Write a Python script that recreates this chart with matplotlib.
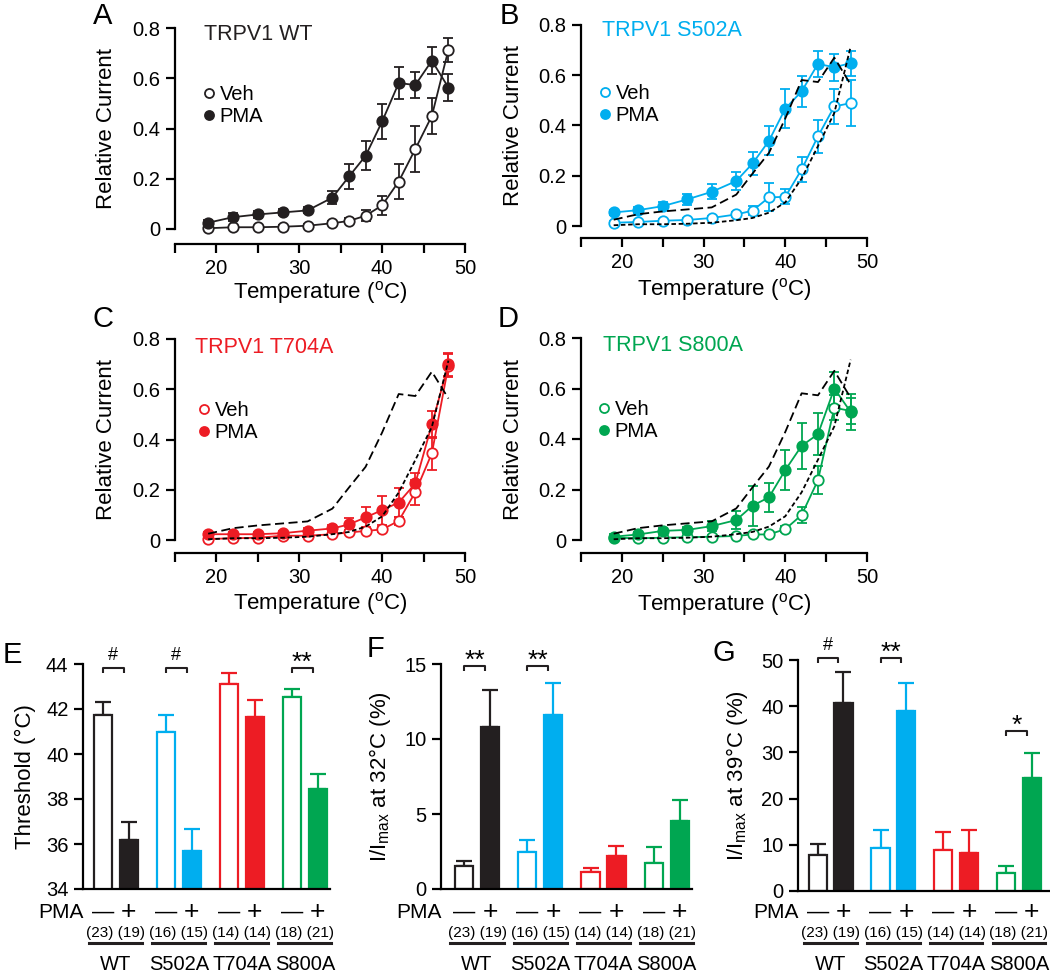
import matplotlib
matplotlib.use('Agg')
import matplotlib.pyplot as plt
from matplotlib.lines import Line2D
from matplotlib.ticker import FuncFormatter, MultipleLocator
from matplotlib.transforms import blended_transform_factory

plt.rcParams['font.family'] = ['Liberation Sans', 'DejaVu Sans']
plt.rcParams['mathtext.fontset'] = 'custom'
plt.rcParams['mathtext.rm'] = 'Liberation Sans'
plt.rcParams['mathtext.it'] = 'Liberation Sans:italic'
plt.rcParams['mathtext.bf'] = 'Liberation Sans:bold'
plt.rcParams['axes.linewidth'] = 1.6
plt.rcParams['xtick.major.width'] = 1.6
plt.rcParams['ytick.major.width'] = 1.6
plt.rcParams['xtick.major.size'] = 6.5
plt.rcParams['ytick.major.size'] = 6.5
plt.rcParams['xtick.labelsize'] = 14.5
plt.rcParams['ytick.labelsize'] = 14.5
plt.rcParams['axes.labelsize'] = 16

BLACK = '#231f20'
BLUE = '#00aeef'
RED = '#ed1c24'
GREEN = '#00a651'

# ---- temperature-response curves (A-D) ----
temps = [19, 22, 25, 28, 31, 34, 36, 38, 40, 42, 44, 46, 48]

wt_veh = [0.003, 0.007, 0.007, 0.009, 0.013, 0.023, 0.032, 0.053, 0.094, 0.189, 0.318, 0.450, 0.714]
wt_veh_err = [0.003, 0.004, 0.004, 0.005, 0.006, 0.008, 0.010, 0.023, 0.038, 0.068, 0.092, 0.073, 0.048]
wt_pma = [0.025, 0.047, 0.058, 0.066, 0.074, 0.125, 0.209, 0.291, 0.428, 0.581, 0.573, 0.670, 0.563]
wt_pma_err = [0.010, 0.015, 0.015, 0.012, 0.012, 0.026, 0.048, 0.058, 0.070, 0.065, 0.050, 0.053, 0.055]

s502a_veh = [0.013, 0.016, 0.021, 0.024, 0.032, 0.046, 0.061, 0.114, 0.116, 0.225, 0.357, 0.476, 0.489]
s502a_veh_err = [0.005, 0.005, 0.006, 0.006, 0.008, 0.010, 0.017, 0.056, 0.030, 0.050, 0.066, 0.071, 0.092]
s502a_pma = [0.054, 0.063, 0.079, 0.106, 0.136, 0.179, 0.249, 0.339, 0.467, 0.536, 0.645, 0.632, 0.648]
s502a_pma_err = [0.010, 0.012, 0.015, 0.023, 0.030, 0.034, 0.046, 0.058, 0.078, 0.061, 0.050, 0.053, 0.050]

t704a_veh = [0.004, 0.007, 0.009, 0.017, 0.017, 0.023, 0.030, 0.036, 0.042, 0.076, 0.190, 0.345, 0.694]
t704a_veh_err = [0.004, 0.004, 0.005, 0.006, 0.006, 0.008, 0.008, 0.010, 0.010, 0.015, 0.050, 0.066, 0.045]
t704a_pma = [0.023, 0.023, 0.023, 0.027, 0.037, 0.046, 0.062, 0.090, 0.119, 0.149, 0.225, 0.460, 0.699]
t704a_pma_err = [0.010, 0.010, 0.010, 0.010, 0.012, 0.015, 0.025, 0.040, 0.058, 0.057, 0.040, 0.053, 0.045]

s800a_veh = [0.009, 0.007, 0.009, 0.011, 0.013, 0.016, 0.022, 0.022, 0.043, 0.099, 0.237, 0.524, 0.511]
s800a_veh_err = [0.004, 0.004, 0.004, 0.005, 0.005, 0.006, 0.008, 0.008, 0.012, 0.030, 0.056, 0.050, 0.050]
s800a_pma = [0.013, 0.022, 0.036, 0.040, 0.055, 0.079, 0.136, 0.169, 0.277, 0.373, 0.419, 0.600, 0.507]
s800a_pma_err = [0.010, 0.010, 0.012, 0.012, 0.020, 0.036, 0.079, 0.057, 0.079, 0.090, 0.082, 0.066, 0.070]

# ---- bar summaries (E-G) ----
groups = ['WT', 'S502A', 'T704A', 'S800A']
group_colors = [BLACK, BLUE, RED, GREEN]
n_veh = [23, 16, 14, 18]
n_pma = [19, 15, 14, 21]

thr_veh = [41.72, 40.98, 43.11, 42.52]
thr_veh_err = [0.58, 0.74, 0.49, 0.38]
thr_pma = [36.16, 35.70, 41.64, 38.44]
thr_pma_err = [0.84, 0.96, 0.77, 0.69]

i32_veh = [1.51, 2.47, 1.13, 1.73]
i32_veh_err = [0.33, 0.77, 0.27, 1.07]
i32_pma = [10.78, 11.58, 2.22, 4.51]
i32_pma_err = [2.51, 2.15, 0.67, 1.45]

i39_veh = [7.88, 9.30, 8.96, 3.90]
i39_veh_err = [2.38, 3.85, 3.84, 1.45]
i39_pma = [40.8, 38.9, 8.3, 24.5]
i39_pma_err = [6.5, 6.2, 4.85, 5.3]

W, H = 1050, 977
fig = plt.figure(figsize=(W / 100, H / 100), dpi=100)


def px_axes(x0, y_top, x1, y_bot):
    return fig.add_axes([x0 / W, 1 - y_bot / H, (x1 - x0) / W, (y_bot - y_top) / H])


def fig_text(px, py, s, **kw):
    fig.text(px / W, 1 - py / H, s, **kw)


def unclip(container):
    for art in container.get_children():
        art.set_clip_on(False)


# ------------------------------------------------------------------
# A-D: relative current vs temperature
# ------------------------------------------------------------------
curve_panels = [
    # letter, title, color, veh, veh_err, pma, pma_err, box(px), spine offset, letter pos, title pos, legend anchor
    ('A', 'TRPV1 WT', BLACK, wt_veh, wt_veh_err, wt_pma, wt_pma_err,
     (175, 28, 465, 229), 15, (93, 16), (0.10, 0.97), (0.099, 0.715)),
    ('B', 'TRPV1 S502A', BLUE, s502a_veh, s502a_veh_err, s502a_pma, s502a_pma_err,
     (581, 25, 867, 226), 12, (500, 16), (0.073, 0.975), (0.065, 0.705)),
    ('C', 'TRPV1 T704A', RED, t704a_veh, t704a_veh_err, t704a_pma, t704a_pma_err,
     (175, 339, 465, 540), 13, (93, 319), (0.069, 0.96), (0.081, 0.69)),
    ('D', 'TRPV1 S800A', GREEN, s800a_veh, s800a_veh_err, s800a_pma, s800a_pma_err,
     (581, 338, 867, 540), 13, (498, 319), (0.077, 0.965), (0.0615, 0.695)),
]

for (letter, title, col, veh, veh_err, pma, pma_err, box, offset,
     lpos, tpos, legpos) in curve_panels:
    ax = px_axes(*box)
    ax.set_xlim(15, 50)
    ax.set_ylim(0, 0.8)
    for side in ('top', 'right'):
        ax.spines[side].set_visible(False)
    ax.spines['bottom'].set_position(('outward', offset * 0.72))

    if letter != 'A':
        # WT curves for reference
        ax.plot(temps, wt_pma, color='black', lw=1.3, dashes=(5, 2.5), zorder=3, clip_on=False)
        ax.plot(temps, wt_veh, color='black', lw=1.3, dashes=(2.5, 1.5), zorder=3, clip_on=False)

    for vals, errs, face in ((veh, veh_err, 'white'), (pma, pma_err, col)):
        eb = ax.errorbar(temps, vals, yerr=errs, fmt='-o', color=col, mfc=face, mec=col,
                         ms=7.5, mew=1.3, lw=1.3, elinewidth=1.3, capsize=3.6, capthick=1.3,
                         zorder=2)
        unclip(eb)

    ax.xaxis.set_major_locator(MultipleLocator(5))
    ax.xaxis.set_major_formatter(FuncFormatter(
        lambda v, _: f'{v:g}' if (v % 10 == 0 and v > 15) else ''))
    ax.yaxis.set_major_locator(MultipleLocator(0.2))
    ax.yaxis.set_major_formatter(FuncFormatter(lambda v, _: f'{v:g}'))
    ax.tick_params(direction='out', pad=4)

    ax.set_xlabel('Temperature ($^{\\mathregular{o}}$C)')
    ax.xaxis.set_label_coords(0.5, -0.25)
    ax.xaxis.label.set_va('top')
    ax.set_ylabel('Relative Current')
    ax.yaxis.set_label_coords(-0.2, 0.5)

    ax.text(tpos[0], tpos[1], title, transform=ax.transAxes, color=col,
            fontsize=15.5, ha='left', va='center')

    handles = [Line2D([], [], marker='o', ls='none', mfc='white', mec=col, mew=1.3, ms=6.5),
               Line2D([], [], marker='o', ls='none', mfc=col, mec=col, mew=1.3, ms=6.5)]
    ax.legend(handles, ['Veh', 'PMA'], loc='upper left', bbox_to_anchor=legpos,
              frameon=False, fontsize=14.5, handlelength=0.55, handletextpad=0.25,
              labelspacing=0.15, borderpad=0, borderaxespad=0)

    fig_text(lpos[0], lpos[1], letter, fontsize=21, ha='left', va='center')

# ------------------------------------------------------------------
# E-G: bar summaries
# ------------------------------------------------------------------
bar_panels = [
    ('E', 'Threshold (°C)', thr_veh, thr_veh_err, thr_pma, thr_pma_err,
     (83, 664, 330, 889), (34, 44), 2, (-0.52, 3.40), (3, 655),
     [(0, '#', 43.82), (1, '#', 43.82), (3, '**', 43.82)]),
    ('F', 'I/I$_{\\rm max}$ at 32°C (%)', i32_veh, i32_veh_err, i32_pma, i32_pma_err,
     (441, 664, 692, 889), (0, 15), 5, (-0.57, 3.40), (367, 649),
     [(0, '**', 14.85), (1, '**', 14.85)]),
    ('G', 'I/I$_{\\rm max}$ at 39°C (%)', i39_veh, i39_veh_err, i39_pma, i39_pma_err,
     (798, 660, 1049, 891), (0, 50), 10, (-0.52, 3.48), (712, 653),
     [(0, '#', 50.4), (1, '**', 50.4), (3, '*', 34.6)]),
]

off = 0.205
bw = 0.29

for (letter, ylabel, veh, veh_err, pma, pma_err, box, ylim, ystep, xlim,
     lpos, sigs) in bar_panels:
    ax = px_axes(*box)
    ax.set_xlim(*xlim)
    ax.set_ylim(*ylim)
    for side in ('top', 'right'):
        ax.spines[side].set_visible(False)

    xs = list(range(len(groups)))
    xv = [x - off for x in xs]
    xp = [x + off for x in xs]
    ax.bar(xv, veh, width=bw, color='white', edgecolor=group_colors, linewidth=1.6, zorder=2)
    ax.bar(xp, pma, width=bw, color=group_colors, edgecolor=group_colors, linewidth=1.6, zorder=2)
    for i, c in enumerate(group_colors):
        for xx, v, e in ((xv[i], veh[i], veh_err[i]), (xp[i], pma[i], pma_err[i])):
            eb = ax.errorbar([xx], [v], yerr=[[0], [e]], fmt='none', ecolor=c,
                             elinewidth=1.6, capsize=5.5, capthick=1.6, zorder=1)
            unclip(eb)

    ax.set_xticks([])
    ax.yaxis.set_major_locator(MultipleLocator(ystep))
    ax.yaxis.set_major_formatter(FuncFormatter(lambda v, _: f'{v:g}'))
    ax.tick_params(axis='y', direction='out', pad=4)
    ax.set_ylabel(ylabel, fontsize=16)
    ax.yaxis.set_label_coords(-0.19, 0.5)

    # significance brackets
    ax_h = box[3] - box[1]
    per_px = (ylim[1] - ylim[0]) / ax_h
    for gi, lab, yb in sigs:
        x0, x1 = xv[gi], xp[gi] - 0.08
        tip = 5 * per_px
        ax.plot([x0, x0, x1, x1], [yb - tip, yb, yb, yb - tip], color=BLACK, lw=1.5,
                clip_on=False, solid_capstyle='butt')
        if lab == '#':
            ax.annotate(lab, xy=((x0 + x1) / 2, yb), xytext=(0, 9), textcoords='offset points',
                        ha='center', va='center', fontsize=13, annotation_clip=False)
        else:
            ax.annotate(lab, xy=((x0 + x1) / 2, yb), xytext=(0, 4), textcoords='offset points',
                        ha='center', va='center', fontsize=19, annotation_clip=False)

    # rows under the x axis
    tr = blended_transform_factory(ax.transData, fig.transFigure)
    fig_text(box[0] + 1, 912, 'PMA', fontsize=15, ha='right', va='center')
    for i in xs:
        ax.text(xv[i], 1 - 912 / H, '\u2014', transform=tr, fontsize=16, ha='center', va='center')
        ax.text(xp[i], 1 - 912 / H, '+', transform=tr, fontsize=19, ha='center', va='center')
        ax.text(i, 1 - 933 / H, f'({n_veh[i]}) ({n_pma[i]})', transform=tr, fontsize=11,
                ha='center', va='center')
        ax.add_line(Line2D([i - 0.42, i + 0.42], [1 - 943 / H, 1 - 943 / H], transform=tr,
                           color=BLACK, lw=2.2, clip_on=False))
        ax.text(i, 1 - 965 / H, groups[i], transform=tr, fontsize=14.5, ha='center', va='center')

    fig_text(lpos[0], lpos[1], letter, fontsize=21, ha='left', va='center')

fig.savefig('out.png', dpi=100)
